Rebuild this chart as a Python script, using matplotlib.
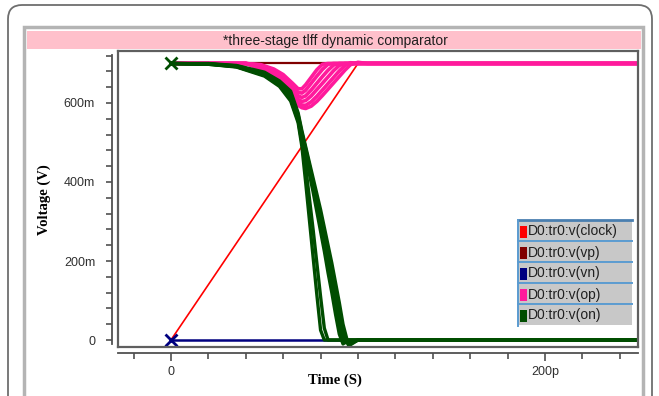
import matplotlib
matplotlib.use('Agg')
import matplotlib.pyplot as plt
from matplotlib.patches import FancyBboxPatch, Rectangle

titulo = "*three-stage tlff dynamic comparator"
nombres = ["D0:tr0:v(clock)", "D0:tr0:v(vp)", "D0:tr0:v(vn)", "D0:tr0:v(op)", "D0:tr0:v(on)"]
colores = ['#ff0000', '#800000', '#000080', '#ff1a9c', '#004d00']

# tiempos en ps, tensiones en mV
t_clock = [0, 100, 250]
v_clock = [0, 700, 700]
t_vp = [0, 250]
v_vp = [700, 700]
t_vn = [0, 250]
v_vn = [0, 0]

t_op = [0, 40, 48, 55, 60, 65, 68, 70, 72, 75, 78, 81, 84, 87, 90, 93, 96, 100, 105, 250]
op_a = [700, 700, 697, 686, 672, 650, 636, 636, 646, 665, 684, 698, 700, 700, 700, 700, 700, 700, 700, 700]
op_b = [700, 700, 696, 683, 668, 643, 627, 625, 632, 650, 668, 685, 698, 700, 700, 700, 700, 700, 700, 700]
op_c = [700, 700, 695, 680, 663, 636, 618, 614, 618, 633, 650, 667, 683, 696, 700, 700, 700, 700, 700, 700]
op_d = [700, 700, 693, 676, 657, 628, 609, 604, 606, 618, 634, 650, 666, 682, 695, 700, 700, 700, 700, 700]
op_e = [700, 700, 690, 670, 650, 620, 601, 595, 594, 603, 617, 633, 649, 665, 681, 695, 702, 700, 700, 700]
op_f = [700, 700, 686, 663, 642, 612, 594, 588, 586, 592, 604, 619, 635, 651, 667, 683, 697, 703, 700, 700]

t_on = [0, 20, 35, 50, 58, 64, 68, 70, 72, 74, 76, 78, 80, 82, 84, 86, 88, 90, 92, 95, 100, 250]
on_a = [700, 698, 691, 668, 642, 605, 550, 490, 400, 305, 210, 115, 25, 0, 0, 0, 0, 0, 0, 0, 0, 0]
on_b = [700, 698, 692, 670, 645, 610, 555, 500, 440, 360, 280, 195, 110, 30, 0, 0, 0, 0, 0, 0, 0, 0]
on_c = [700, 699, 692, 672, 648, 615, 560, 515, 470, 420, 375, 325, 275, 225, 170, 120, 65, 15, -10, 0, 0, 0]
on_d = [700, 699, 693, 674, 650, 620, 565, 520, 478, 432, 390, 345, 300, 255, 205, 155, 100, 45, -5, -8, 0, 0]
on_e = [700, 699, 694, 676, 653, 625, 570, 525, 485, 443, 400, 358, 315, 270, 225, 175, 125, 70, 15, -12, 0, 0]
on_f = [700, 700, 695, 678, 656, 630, 575, 530, 490, 450, 410, 370, 330, 285, 240, 195, 145, 95, 40, -15, 0, 0]

x_ticks = [0, 200]
x_tick_labels = ['0', '200p']
x_minor = [-20, 20, 40, 60, 80, 100, 120, 140, 160, 180, 220, 240]
y_ticks = [0, 200, 400, 600]
y_tick_labels = ['0', '200m', '400m', '600m']
y_minor = [40, 80, 120, 160, 240, 280, 320, 360, 440, 480, 520, 560, 640, 680, 720]

W, H = 659, 396
fig = plt.figure(figsize=(W / 100, H / 100), dpi=100)

# fondo en pixeles
fondo = fig.add_axes([0, 0, 1, 1])
fondo.set_xlim(0, W)
fondo.set_ylim(H, 0)
fondo.axis('off')
fondo.add_patch(FancyBboxPatch((8, 5), 644, 430, boxstyle="round,pad=0,rounding_size=14",
                               fc='white', ec='#6e6e6e', lw=1.3))
fondo.add_patch(Rectangle((24, 27), 619, 420, fc='white', ec='#b4b4b4', lw=2.5))
fondo.add_patch(Rectangle((27, 31), 614, 18, fc='#ffc0cb', ec='none'))
fondo.text(335, 41, titulo, ha='center', va='center', fontsize=10,
           family='Liberation Sans', color='#202020')
fondo.text(44, 200, 'Voltage (V)', rotation=90, ha='center', va='center',
           family='Liberation Serif', weight='bold', fontsize=10.5)
fondo.text(335, 380, 'Time (S)', ha='center', va='center',
           family='Liberation Serif', weight='bold', fontsize=10.5)

rect = [118 / W, 1 - 347 / H, 520 / W, 296 / H]
xlim = (-28.3, 249.7)
ylim = (-17.7, 731.6)

ax = fig.add_axes(rect)
ax.set_xlim(*xlim)
ax.set_ylim(*ylim)
ax.set_xticks([])
ax.set_yticks([])
for s in ax.spines.values():
    s.set_color('#5f5f5f')
    s.set_linewidth(1.6)

ax.plot(t_clock, v_clock, color=colores[0], lw=1.2)
ax.plot(t_vp, v_vp, color=colores[1], lw=1.6)
ax.plot(t_vn, v_vn, color=colores[2], lw=1.8)
for v in [op_a, op_b, op_c, op_d, op_e, op_f]:
    ax.plot(t_op, v, color=colores[3], lw=2.6)
for v in [on_a, on_b, on_c, on_d, on_e, on_f]:
    ax.plot(t_on, v, color=colores[4], lw=2.4)
ax.plot([0], [on_a[0]], marker='x', ms=8, mew=2, color=colores[4])
ax.plot([0], [v_vn[0]], marker='x', ms=8, mew=2, color=colores[2])

# ejes separados del recuadro
ejes = fig.add_axes(rect)
ejes.patch.set_visible(False)
ejes.set_xlim(*xlim)
ejes.set_ylim(*ylim)
ejes.spines['top'].set_visible(False)
ejes.spines['right'].set_visible(False)
ejes.spines['left'].set_position(('outward', 4))
ejes.spines['bottom'].set_position(('outward', 4.5))
ejes.spines['left'].set_bounds(-10, 722)
ejes.spines['bottom'].set_bounds(*xlim)
for s in ['left', 'bottom']:
    ejes.spines[s].set_color('#505050')
    ejes.spines[s].set_linewidth(1.3)
ejes.set_xticks(x_ticks, x_tick_labels)
ejes.set_xticks(x_minor, minor=True)
ejes.set_yticks(y_ticks, y_tick_labels)
ejes.set_yticks(y_minor, minor=True)
ejes.tick_params(which='major', length=6, width=1.2, color='#505050', labelsize=9,
                 labelcolor='#303030', direction='out')
ejes.tick_params(which='minor', length=4, width=1.2, color='#505050', direction='out')
ejes.tick_params(axis='y', which='major', pad=8, length=4.5)
ejes.tick_params(axis='x', which='major', pad=3)
for lab in ejes.get_xticklabels() + ejes.get_yticklabels():
    lab.set_family('Liberation Sans')

# leyenda
capa = fig.add_axes([0, 0, 1, 1])
capa.set_zorder(5)
capa.patch.set_visible(False)
capa.set_xlim(0, W)
capa.set_ylim(H, 0)
capa.axis('off')
x0, x1, y0, fila = 518, 632, 220, 21
for i, (nombre, col) in enumerate(zip(nombres, colores)):
    yt = y0 + i * fila
    capa.add_patch(Rectangle((x0, yt + 1), x1 - x0, fila - 1, fc='#c8c8c8', ec='none'))
    capa.plot([x0, x1], [yt, yt], color='#4a7fb0' if i == 0 else '#5b9bd0',
              lw=2.0 if i == 0 else 1.4)
    capa.add_patch(Rectangle((x0 + 2, yt + 6), 7, 12, fc=col, ec='none'))
    capa.text(x0 + 10, yt + 11.5, nombre, ha='left', va='center', fontsize=10,
              family='Liberation Sans', color='#202020')
capa.plot([x0, x0], [y0, y0 + 5 * fila + 1], color='#5b9bd0', lw=1.4)

fig.savefig('out.png', dpi=100)
